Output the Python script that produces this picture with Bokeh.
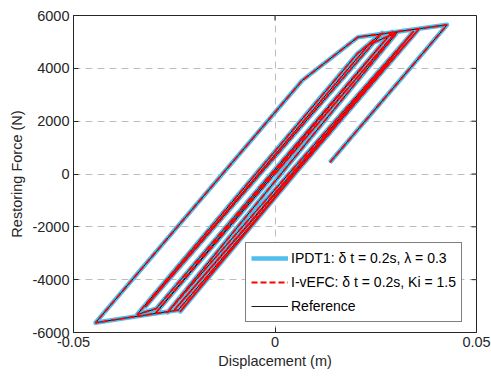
from bokeh.plotting import figure
from bokeh.models import ColumnDataSource, FixedTicker, Legend, LegendItem
from bokeh.embed import file_html
from bokeh.resources import INLINE

# ---- data (polyline vertices, in path order) ----
disp_m = [0.0000, 0.0300, -0.0297, 0.0291, -0.0295, -0.0342, 0.0204, 0.0266,
          -0.0321, 0.0233, 0.0303, -0.0267, 0.0344, -0.0235, 0.0282, -0.0250,
          0.0356, -0.0240, -0.0383, -0.04454, 0.00675, 0.02055, 0.0427, 0.0136]
force_N = [0, 5370, -5280, 5382, -5100, -5318, 4550, 5344,
           -5015, 4900, 5356, -5242, 5405, -5204, 4270, -5150,
           5469, -5150, -5481, -5632, 3542, 5178, 5647, 435]

# the two identified models overlap the reference curve
ipdt1_disp, ipdt1_force = disp_m, force_N
ivefc_disp, ivefc_force = disp_m, force_N

x_ticks = [-0.05, 0, 0.05]
x_tick_labels = ["-0.05", "0", "0.05"]
y_ticks = [-6000, -4000, -2000, 0, 2000, 4000, 6000]
y_tick_labels = ["-6000", "-4000", "-2000", "0", "2000", "4000", "6000"]

labels = ["IPDT1: \u03b4 t = 0.2s, \u03bb = 0.3",
          "I-vEFC: \u03b4 t = 0.2s, Ki = 1.5",
          "Reference"]

FONT = "Liberation Sans"
TXT = "#262626"
XMIN, XMAX, YMIN, YMAX = -0.05, 0.05, -6000, 6000
W, H = 491, 376
BL, BR, BT, BB = 73, 15, 15, 44
TICK_PX = 5

p = figure(width=W, height=H, x_range=(XMIN, XMAX), y_range=(YMIN, YMAX),
           output_backend="svg", toolbar_location=None,
           min_border_left=BL, min_border_right=BR, min_border_top=BT, min_border_bottom=BB)
p.outline_line_color = TXT
p.outline_line_width = 1
p.background_fill_color = "white"
p.border_fill_color = "white"

# grid
for g in (p.xgrid[0], p.ygrid[0]):
    g.grid_line_color = "#bdbdbd"
    g.grid_line_dash = "7 5"
    g.grid_line_width = 1
p.xgrid.ticker = FixedTicker(ticks=x_ticks)
p.ygrid.ticker = FixedTicker(ticks=y_ticks)

src_ref = ColumnDataSource(dict(x=disp_m, y=force_N))
src_ip = ColumnDataSource(dict(x=ipdt1_disp, y=ipdt1_force))
src_iv = ColumnDataSource(dict(x=ivefc_disp, y=ivefc_force))

r_blue = p.line("x", "y", source=src_ip, line_color="#4DBEEE", line_width=4.5,
                line_join="round")
r_black = p.line("x", "y", source=src_ref, line_color="black", line_width=0.9)
r_red = p.line("x", "y", source=src_iv, line_color="#FF0000", line_width=1.8,
               line_dash="6 3")

# inward ticks on the top and right edges of the box
dx_tick = TICK_PX * (XMAX - XMIN) / (W - BL - BR)
dy_tick = TICK_PX * (YMAX - YMIN) / (H - BT - BB)
p.segment(x0=x_ticks, x1=x_ticks, y0=[YMAX] * len(x_ticks),
          y1=[YMAX - dy_tick] * len(x_ticks), line_color=TXT, line_width=1)
p.segment(x0=[XMAX] * len(y_ticks), x1=[XMAX - dx_tick] * len(y_ticks),
          y0=y_ticks, y1=y_ticks, line_color=TXT, line_width=1)

# axes
for ax in (p.xaxis[0], p.yaxis[0]):
    ax.major_tick_in = TICK_PX
    ax.major_tick_out = 0
    ax.minor_tick_line_color = None
    ax.axis_line_color = TXT
    ax.major_tick_line_color = TXT
    ax.major_label_text_font = FONT
    ax.major_label_text_font_size = "14.5px"
    ax.major_label_text_color = TXT
    ax.axis_label_text_font = FONT
    ax.axis_label_text_font_size = "14.5px"
    ax.axis_label_text_font_style = "normal"
    ax.axis_label_text_color = TXT

p.xaxis.ticker = FixedTicker(ticks=x_ticks)
p.yaxis.ticker = FixedTicker(ticks=y_ticks)
p.xaxis.major_label_overrides = {t: l for t, l in zip(x_ticks, x_tick_labels)}
p.yaxis.major_label_overrides = {t: l for t, l in zip(y_ticks, y_tick_labels)}
p.xaxis.axis_label = "Displacement (m)"
p.yaxis.axis_label = "Restoring Force (N)"
p.xaxis.major_label_standoff = 4
p.xaxis.axis_label_standoff = 3
p.yaxis.major_label_standoff = 4
p.yaxis.axis_label_standoff = 4

legend = Legend(items=[LegendItem(label=labels[0], renderers=[r_blue]),
                       LegendItem(label=labels[1], renderers=[r_red]),
                       LegendItem(label=labels[2], renderers=[r_black])],
                location=(172, 10))
legend.border_line_color = "black"
legend.border_line_width = 1
legend.background_fill_color = "white"
legend.background_fill_alpha = 1
legend.label_text_font = FONT
legend.label_text_font_size = "14px"
legend.label_text_color = "black"
legend.glyph_width = 37
legend.glyph_height = 20
legend.label_height = 20
legend.label_standoff = 3
legend.padding = 5
legend.spacing = 4
legend.margin = 0
p.add_layout(legend)

open("out.html", "w").write(file_html(p, INLINE))
